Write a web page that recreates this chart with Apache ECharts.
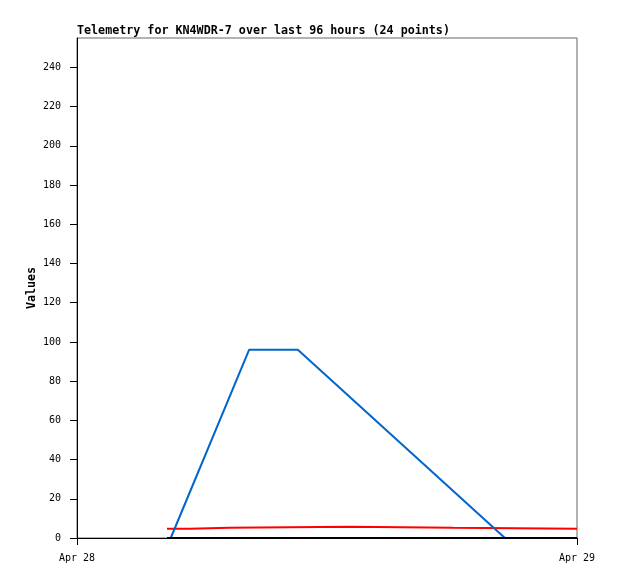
<!DOCTYPE html>
<html>
<head>
<meta charset="utf-8">
<script src="https://cdn.jsdelivr.net/npm/echarts@6/dist/echarts.min.js"></script>
<style>
  html, body { margin: 0; padding: 0; background: #fff; }
</style>
</head>
<body>
<div id="chart" style="width:618px;height:579px;"></div>
<script>
// time range shown: Apr 28 00:00 -> Apr 29 00:00 (UTC)
var HOUR = 3600 * 1000;
var t0 = Date.UTC(2024, 3, 28);
var t1 = Date.UTC(2024, 3, 29);

// hours after t0
var redHours = [4.32, 5.42, 7.3, 13.1, 18.05, 24];
var redValues = [4.7, 5.2, 5.7, 5.2, 4.7, 4.7];

var blueHours = [4.5, 8.26, 10.6, 20.54, 24];
var blueValues = [0, 96, 96, 0, 0];

var blackHours = [4.32, 24];
var blackValues = [0, 0];

var yTicks = [0, 20, 40, 60, 80, 100, 120, 140, 160, 180, 200, 220, 240];
var xTicks = [t0, t1];
var monthNames = ['Jan', 'Feb', 'Mar', 'Apr', 'May', 'Jun', 'Jul', 'Aug', 'Sep', 'Oct', 'Nov', 'Dec'];

function pairs(hours, values) {
    var res = [];
    for (var i = 0; i < hours.length; i++) {
        res.push([t0 + hours[i] * HOUR, values[i]]);
    }
    return res;
}

var myChart = echarts.init(document.getElementById('chart'));
var font = '"DejaVu Sans Mono", "Liberation Mono", monospace';

var option = {
    animation: false,
    backgroundColor: '#fff',
    title: {
        text: 'Telemetry for KN4WDR-7 over last 96 hours (24 points)',
        left: 72,
        top: 20,
        textStyle: { fontFamily: font, fontSize: 11.7, fontWeight: 'bold', color: '#000' }
    },
    grid: {
        left: 77, right: 41, top: 38, bottom: 41,
        show: true, borderColor: '#666', borderWidth: 1, backgroundColor: '#fff'
    },
    xAxis: {
        type: 'value',
        min: t0,
        max: t1,
        interval: 24 * HOUR,
        splitLine: { show: false },
        axisLine: { show: true, onZero: false, lineStyle: { color: '#000', width: 1 } },
        axisTick: { show: true, length: 7, lineStyle: { color: '#000' }, customValues: xTicks },
        axisLabel: {
            customValues: xTicks,
            margin: 15,
            fontFamily: font, fontSize: 10, color: '#000',
            formatter: function (v) {
                var d = new Date(v);
                return monthNames[d.getUTCMonth()] + ' ' + d.getUTCDate();
            }
        }
    },
    yAxis: {
        type: 'value',
        min: 0,
        max: 255,
        interval: 20,
        name: 'Values',
        nameLocation: 'middle',
        nameGap: 39,
        nameMoveOverlap: false,
        nameTextStyle: { fontFamily: font, fontSize: 11.7, fontWeight: 'bold', color: '#000' },
        splitLine: { show: false },
        axisLine: { show: true, lineStyle: { color: '#000', width: 1 } },
        axisTick: { show: true, length: 7, lineStyle: { color: '#000' }, customValues: yTicks },
        axisLabel: {
            customValues: yTicks,
            margin: 16,
            fontFamily: font, fontSize: 10, color: '#000'
        }
    },
    series: [
        {
            name: 'red',
            type: 'line',
            step: 'end',
            symbol: 'none',
            z: 2,
            lineStyle: { color: '#ff0000', width: 2 },
            data: pairs(redHours, redValues)
        },
        {
            name: 'blue',
            type: 'line',
            symbol: 'none',
            z: 3,
            lineStyle: { color: '#0066cc', width: 2 },
            data: pairs(blueHours, blueValues)
        },
        {
            name: 'black',
            type: 'line',
            symbol: 'none',
            z: 4,
            lineStyle: { color: '#000', width: 2 },
            data: pairs(blackHours, blackValues)
        }
    ]
};

option && myChart.setOption(option);
</script>
</body>
</html>
